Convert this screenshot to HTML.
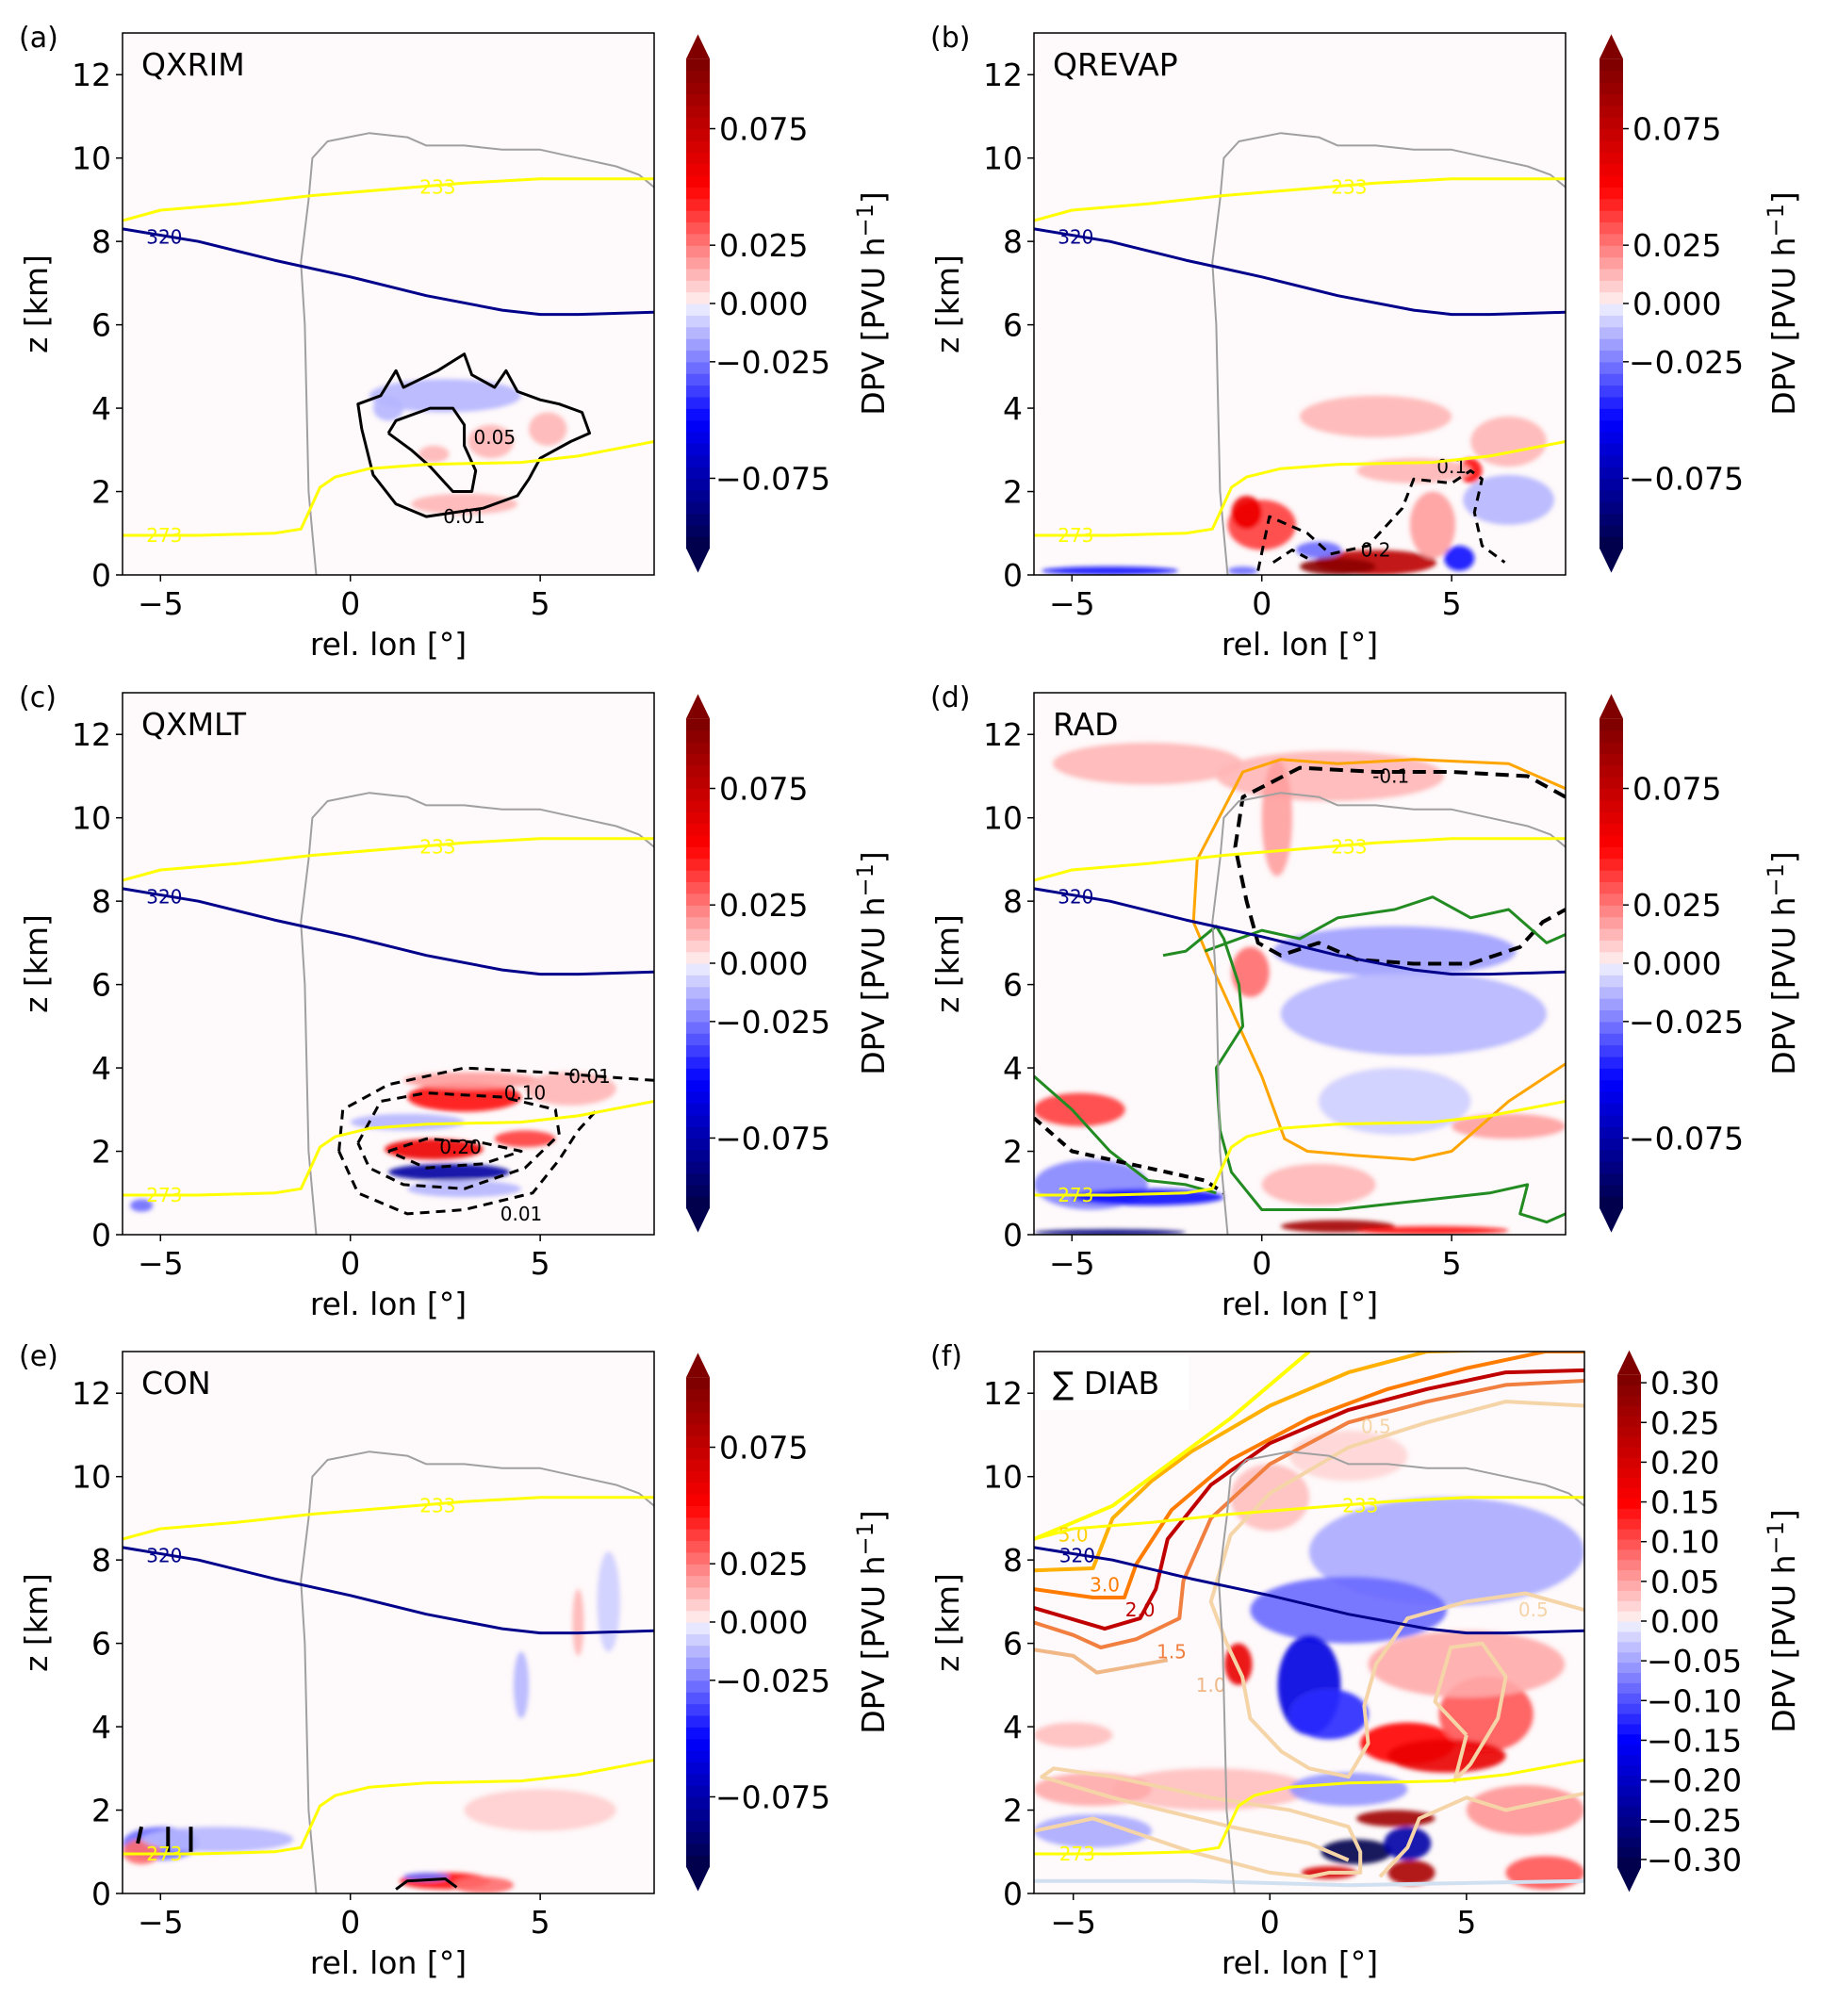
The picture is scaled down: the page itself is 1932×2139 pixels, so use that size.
<!DOCTYPE html>
<html><head><meta charset="utf-8">
<style>
html,body{margin:0;padding:0;background:#fff;}
svg{display:block;font-family:"DejaVu Sans","Liberation Sans",sans-serif;}
</style></head>
<body>
<svg id="fig" width="1932" height="2139" viewBox="0 0 1932 2139" xmlns="http://www.w3.org/2000/svg">
<defs id="defs"><filter id="soft" x="-20%" y="-20%" width="140%" height="140%"><feGaussianBlur stdDeviation="2.5"/></filter></defs>
</svg>
<script>
// ---------- data ----------
const xTickVals=[-5,0,5];
const xTickLabels=['\u22125','0','5'];
const yTickVals=[0,2,4,6,8,10,12];
const cbTicksSmall=[0.075,0.025,0,-0.025,-0.075];
const cbTickLabelsSmall=['0.075','0.025','0.000','\u22120.025','\u22120.075'];
const cbTicksF=[0.3,0.25,0.2,0.15,0.1,0.05,0,-0.05,-0.1,-0.15,-0.2,-0.25,-0.3];
const cbTickLabelsF=['0.30','0.25','0.20','0.15','0.10','0.05','0.00','\u22120.05','\u22120.10','\u22120.15','\u22120.20','\u22120.25','\u22120.30'];
const iso233=[[-6,8.5],[-5,8.75],[-3,8.9],[-1,9.1],[1,9.25],[3,9.4],[5,9.5],[8,9.5]];
const iso273=[[-6,0.95],[-4,0.95],[-2,1.0],[-1.3,1.1],[-1.1,1.5],[-0.8,2.1],[-0.4,2.35],[0.5,2.55],[2,2.65],[4.5,2.7],[6,2.85],[8,3.2]];
const theta320=[[-6,8.3],[-4,8.0],[-2,7.55],[0,7.15],[2,6.7],[4,6.35],[5,6.25],[6,6.25],[8,6.3]];
const cloudEdge=[[-0.9,0],[-1.0,1],[-1.1,2],[-1.15,4],[-1.2,6],[-1.3,7.5],[-1.1,9],[-1.0,10],[-0.6,10.4],[0.5,10.6],[1.5,10.5],[2,10.3],[3,10.3],[4,10.2],[5,10.2],[6,10.0],[7,9.8],[7.6,9.6],[8,9.3]];
const panelNames=['QXRIM','QREVAP','QXMLT','RAD','CON','\u2211 DIAB'];
const panelLetters=['(a)','(b)','(c)','(d)','(e)','(f)'];
// blobs: [lon, z, rx(deg), ry(km), value]
const blobsA=[[2.5,4.3,2.0,0.4,-0.012],[1.0,4.0,0.4,0.3,-0.012],[3.7,3.2,0.6,0.4,0.012],[5.2,3.5,0.5,0.4,0.012],[3.0,1.7,1.4,0.25,0.012],[2.2,2.9,0.4,0.2,0.012]];
const blobsB=[[0.0,1.2,0.9,0.6,0.04],[-0.4,1.5,0.4,0.4,0.06],[3.0,0.3,1.6,0.3,0.08],[2.0,0.2,1.0,0.2,0.1],[4.5,1.2,0.6,0.8,0.02],[5.2,0.4,0.4,0.3,-0.05],[5.5,2.5,0.3,0.3,0.05],[6.5,1.8,1.2,0.6,-0.012],[4,2.5,1.5,0.3,0.012],[1.5,0.6,0.6,0.2,-0.03],[-4,0.1,1.8,0.1,-0.05],[3,3.8,2,0.5,0.012],[6.5,3.2,1,0.6,0.012],[-0.5,0.1,0.4,0.1,-0.03]];
const blobsC=[[2.2,2.05,1.3,0.25,0.06],[4.6,2.3,0.8,0.2,0.04],[2.6,1.5,1.6,0.2,-0.08],[3,3.3,1.5,0.35,0.05],[3.2,3.7,1.8,0.2,0.02],[1.5,2.7,1.5,0.2,-0.015],[5.8,3.5,1.2,0.4,0.012],[3,1.1,1.5,0.2,-0.015],[-5.5,0.7,0.3,0.15,-0.03]];
const blobsD=[[-3,11.3,2.5,0.5,0.012],[1.8,11,3.0,0.6,0.012],[0.4,10,0.4,1.4,0.02],[-0.3,6.3,0.5,0.6,0.03],[3.5,6.8,3.2,0.6,-0.02],[4,5.3,3.5,1.0,-0.012],[-4.8,3.0,1.2,0.4,0.04],[-4.5,1.2,1.5,0.6,-0.025],[-3,0.9,2,0.2,-0.05],[2,0.2,1.5,0.15,0.09],[4.5,0.1,2,0.1,0.05],[1.5,1.2,1.5,0.5,0.012],[6.5,2.6,1.5,0.3,0.02],[-4,0.05,2,0.08,-0.09],[3.5,3.2,2,0.8,-0.008]];
const blobsE=[[-5,1.2,1.0,0.4,-0.03],[-5.5,1.0,0.5,0.3,0.03],[-3.5,1.3,2,0.3,-0.012],[2.5,0.3,1.2,0.2,0.05],[3.5,0.2,0.8,0.2,0.03],[2,0.4,0.6,0.1,-0.03],[4.5,5,0.2,0.8,-0.012],[6,6.5,0.15,0.8,0.012],[5,2,2,0.5,0.008],[6.8,7,0.3,1.2,-0.008]];
const blobsF=[[2,10.5,1.5,0.6,0.02],[0,9.5,1,0.8,0.03],[4.5,8.2,3.5,1.3,-0.04],[2,6.8,2.5,0.8,-0.08],[1.0,5.0,0.8,1.2,-0.18],[1.5,4.3,1,0.6,-0.12],[-0.8,5.5,0.35,0.5,0.18],[3.5,3.6,1.2,0.5,0.15],[5.5,4.3,1.2,0.9,0.1],[4.5,3.3,1.5,0.4,0.17],[3.2,1.8,1.0,0.2,0.27],[2.2,1.0,0.9,0.3,-0.3],[3.5,1.2,0.6,0.4,-0.22],[3.6,0.5,0.6,0.3,0.25],[1.5,0.5,0.7,0.15,0.2],[-1.5,2.5,2.5,0.5,0.03],[-4.5,2.5,1.5,0.4,0.04],[-4.5,1.5,1.5,0.4,-0.04],[2,2.5,1.5,0.4,-0.06],[6.5,2,1.5,0.6,0.06],[7,0.5,1,0.4,0.1],[-5,3.8,1,0.3,0.03],[5,5.5,2.5,0.8,0.04]];
const contF50=[[-6,8.5],[-5,8.9],[-4,9.3],[-3,10.0],[-2,10.7],[-1,11.4],[0,12.2],[1,13]];
const contF40=[[-6,7.75],[-4.5,7.8],[-4,9.0],[-3,9.9],[-2,10.6],[0,11.7],[2,12.5],[4,13],[8,13.1]];
const contF30=[[-6,7.3],[-4.5,7.1],[-3.7,7.1],[-3.4,7.9],[-2.5,9.2],[-1,10.4],[1,11.4],[3,12.1],[5,12.6],[7,13],[8,13]];
const contF20=[[-6,6.85],[-4.2,6.35],[-3.3,6.6],[-2.9,7.3],[-2.6,8.5],[-1.5,9.8],[0,10.8],[2,11.6],[4,12.1],[6,12.5],[8,12.55]];
const contF15=[[-6,6.5],[-5,6.2],[-4.3,5.9],[-3.4,6.1],[-2.3,6.6],[-2.2,7.5],[-1.5,9],[0,10.3],[2,11.3],[4,11.8],[6,12.2],[8,12.3]];
const contF10=[[-6,5.85],[-5,5.7],[-4.4,5.3],[-3.8,5.4],[-2.6,5.6]];
const contF05a=[[8,11.7],[6,11.8],[4,11.3],[2,10.7],[0,9.6],[-1,8.6],[-1.5,7.0],[-1.1,6.0],[-0.7,5.2],[-0.5,4.2],[0.3,3.4],[1.0,3.0],[2,2.8],[2.5,3.6],[2.4,4.5],[2.7,5.5],[3.5,6.6],[5,7.0],[6.5,7.2],[8,6.8]];
const contF05b=[[5.0,3.8],[4.2,4.6],[4.6,5.9],[5.4,6.0],[6.0,5.2],[5.8,4.2],[5.1,3.1],[4.7,2.7],[5.0,3.8]];
const contF05c=[[-6,1.5],[-4.5,1.8],[-2,1.0],[0,0.5],[1,0.4],[1.5,0.5],[2.3,0.5],[2.3,1.0],[2.0,1.6],[0.5,2.0],[-1.5,2.3],[-4,2.8],[-5.5,3.0],[-5.8,2.8],[-4,2.3],[-1,1.6],[1,1.2],[2,0.8]];
const contF05d=[[2.8,0.4],[3.5,1.1],[3.8,1.8],[5,2.3],[6,2.0],[8,2.4]];
const contAouter=[[0.3,3.5],[0.2,4.1],[0.8,4.3],[1.2,4.9],[1.4,4.5],[2.3,4.9],[3.0,5.3],[3.2,4.8],[3.8,4.5],[4.1,4.9],[4.4,4.4],[5.0,4.2],[5.5,4.1],[6.1,3.9],[6.3,3.4],[5.8,3.2],[5.0,2.8],[4.7,2.3],[4.4,1.9],[3.5,1.6],[2.0,1.4],[1.2,1.7],[0.6,2.4],[0.3,3.5]];
const contAinner=[[1.0,3.4],[1.2,3.7],[2.1,4.0],[2.7,4.0],[3.0,3.6],[3.0,3.1],[3.3,2.5],[3.2,2.0],[2.7,2.0],[2.1,2.6],[1.6,3.0],[1.0,3.4]];
const contBdash1=[[-0.1,0.1],[0.2,1.4],[1.2,1.0],[1.8,0.5],[2.8,0.7],[3.7,1.6],[4.0,2.3],[5.0,2.2],[5.5,2.5],[5.8,2.3],[5.6,1.5],[5.8,0.7],[6.4,0.3]];
const contBdash2=[[0.3,0.3],[0.8,0.6],[1.2,0.4]];
const contCdash1=[[-0.3,2.0],[-0.2,3.0],[1,3.6],[3,4.0],[5,3.9],[6.5,3.8],[8,3.7]];
const contCdash2=[[-0.3,2.0],[0.2,1.0],[1.5,0.5],[3,0.6],[4.8,1.0],[5.5,1.8],[6.0,2.5],[6.5,3.0]];
const contCdash3=[[0.2,2.2],[0.8,3.2],[2,3.4],[4,3.3],[5.4,3.0],[5.5,2.4],[4.6,1.6],[3,1.1],[1.4,1.2],[0.5,1.6],[0.2,2.2]];
const contCdash4=[[1.0,2.0],[2,2.3],[3.5,2.2],[4.5,2.0],[3.5,1.7],[2,1.6],[1.0,2.0]];
const contDorange1=[[8,10.7],[6.5,11.3],[4,11.4],[2,11.3],[0.5,11.4],[-0.5,11.1],[-1.7,9.0],[-1.8,7.5],[-1.2,6.2],[-0.6,5.0],[0.0,3.8],[0.6,2.3],[1.2,2.0],[2.5,1.9],[4,1.8],[5,2.0],[6.5,3.2],[8,4.1]];
const contDdash=[[8,10.5],[7,11.0],[5,11.1],[3,11.1],[1,11.2],[-0.5,10.5],[-0.7,9.3],[-0.4,8.0],[-0.1,7.0],[0.5,6.7],[1.5,7.0],[2.5,6.6],[4,6.5],[5.5,6.5],[6.8,6.9],[7.4,7.5],[8,7.8]];
const contDgreen=[[-2.6,6.7],[-2.0,6.8],[-1.2,7.4],[-1.0,7.1],[-0.6,6.0],[-0.5,5.0],[-1.2,4.0],[-1.1,2.5],[-0.8,1.5],[0,0.6],[2,0.6],[4,0.8],[6,1.0],[7,1.2],[6.8,0.5],[7.5,0.3],[8,0.5]];
const contDgreen2=[[-1.5,6.8],[0,7.3],[1,7.1],[2,7.6],[3.5,7.8],[4.5,8.1],[5.5,7.6],[6.5,7.8],[7.5,7.0],[8,7.2]];
const contDgreen3=[[-6,3.8],[-5,3.0],[-4,2.0],[-3,1.3],[-2,1.2],[-1.2,1.0]];
const contEsolid=[[1.2,0.1],[1.5,0.3],[2.5,0.35],[2.8,0.15]];

// ---------- helpers ----------
const NS='http://www.w3.org/2000/svg';
const svg=document.getElementById('fig');
const defs=document.getElementById('defs');
function mk(tag,attrs,parent){const e=document.createElementNS(NS,tag);for(const k in attrs)e.setAttribute(k,attrs[k]);(parent||svg).appendChild(e);return e;}
function lerp(a,b,t){return a+(b-a)*t;}
function seismic(t){
  const stops=[[0,[0,0,77]],[0.25,[0,0,255]],[0.5,[255,255,255]],[0.75,[255,0,0]],[1,[128,0,0]]];
  for(let i=0;i<stops.length-1;i++){const a=stops[i],b=stops[i+1];if(t<=b[0]){const u=(t-a[0])/(b[0]-a[0]);return 'rgb('+a[1].map((c,j)=>Math.round(lerp(c,b[1][j],u))).join(',')+')';}}
  return 'rgb(128,0,0)';
}
function valColor(v,vmax,nb){let t=v/vmax;t=Math.max(-1,Math.min(1,t));const q=Math.sign(t)*Math.ceil(Math.abs(t)*nb)/nb;return seismic((q+1)/2);}

const cols=[{L:130,R:694,cb:728,lab:926},{L:1097,R:1661,cb:1697,lab:1892}];
const rows=[35,735,1434];
const H=575;
const panelBlobs=[blobsA,blobsB,blobsC,blobsD,blobsE,blobsF];

for(let p=0;p<6;p++){
  const isF=(p===5);
  const c=cols[p%2],top=rows[Math.floor(p/2)];
  const L=c.L,R=isF?1681:c.R,W=R-L,B=top+H;
  const vmax=isF?0.31:0.105, nb=isF?24:21;
  const X=lon=>L+(lon+6)/14*W, Y=z=>B-z/13*H;
  const cp=mk('clipPath',{id:'clip'+p},defs);
  mk('rect',{x:L,y:top,width:W,height:H},cp);
  const g=mk('g',{});
  
  
  const bg=mk('rect',{x:L,y:top,width:W,height:H,fill:'#fef9fa'},g);
  
  
  const clip=mk('g',{'clip-path':'url(#clip'+p+')'},g);
  const fieldG=mk('g',{filter:'url(#soft)'},clip);
  
  
  for(const b of panelBlobs[p]){
    const e=mk('ellipse',{cx:X(b[0]),cy:Y(b[1]),rx:b[2]/14*W,ry:b[3]/13*H,fill:valColor(b[4],vmax,nb),opacity:0.9},fieldG);
    
    
  }
  function line(pts,stroke,w,dash,name,closed){
    const d=pts.map((q,i)=>(i?'L':'M')+X(q[0]).toFixed(1)+','+Y(q[1]).toFixed(1)).join(' ')+(closed?'Z':'');
    const e=mk('path',{d:d,fill:'none',stroke:stroke,'stroke-width':w,'stroke-dasharray':dash||'none','stroke-linejoin':'round'},clip);
    
    
    return e;
  }
  function lbl(lon,z,t,col,name){
    const e=mk('text',{x:X(lon),y:Y(z)+7,'font-size':20,fill:col,'text-anchor':'middle'},clip);
    e.textContent=t;
    
    
  }
  if(p===0){line(contAouter,'#000',3,null,'dpv-contour-0.01');line(contAinner,'#000',3,null,'dpv-contour-0.05');lbl(3.0,1.4,'0.01','#000','contour-label');lbl(3.8,3.3,'0.05','#000','contour-label');}
  if(p===1){line(contBdash1,'#000',3,'10,7','dpv-contour-dashed');line(contBdash2,'#000',3,'10,7','dpv-contour-dashed');lbl(5,2.6,'0.1','#000','contour-label');lbl(3,0.6,'0.2','#000','contour-label');}
  if(p===2){line(contCdash1,'#000',3,'10,7','dpv-contour-dashed');line(contCdash2,'#000',3,'10,7','dpv-contour-dashed');line(contCdash3,'#000',3,'10,7','dpv-contour-dashed');line(contCdash4,'#000',3,'10,7','dpv-contour-dashed');lbl(6.3,3.8,'0.01','#000','contour-label');lbl(4.5,0.5,'0.01','#000','contour-label');lbl(2.9,2.1,'0.20','#000','contour-label');lbl(4.6,3.4,'0.10','#000','contour-label');}
  if(p===3){line(contDorange1,'#ffa500',3,null,'orange-contour');line(contDdash,'#000',4,'14,8','dpv-contour-dashed');line(contDgreen,'#228b22',3,null,'green-contour');line(contDgreen2,'#228b22',3,null,'green-contour');line(contDgreen3,'#228b22',3,null,'green-contour');line([[-6,2.8],[-5,2.0],[-3,1.6],[-1.5,1.3],[-1,1.0]],'#000',4,'10,7','dpv-contour-dashed');lbl(3.4,11,'-0.1','#000','contour-label');}
  if(p===4){line(contEsolid,'#000',3,null,'dpv-contour');line([[-5.6,1.2],[-5.5,1.6]],'#000',4,null,'dpv-contour');line([[-4.8,1.0],[-4.8,1.6]],'#000',4,null,'dpv-contour');line([[-4.2,1.0],[-4.2,1.6]],'#000',4,null,'dpv-contour');}
  if(p===5){
    line(contF05a,'#f5d5a8',4,null,'heating-contour-0.5');line(contF05b,'#f5d5a8',4,null,'heating-contour-0.5');line(contF05c,'#f5d5a8',4,null,'heating-contour-0.5');line(contF05d,'#f5d5a8',4,null,'heating-contour-0.5');
    line(contF10,'#f0b787',4,null,'heating-contour-1.0');
    line(contF15,'#f07f40',4,null,'heating-contour-1.5');
    line(contF20,'#c00000',4,null,'heating-contour-2.0');
    line(contF30,'#ff7c00',4,null,'heating-contour-3.0');
    line(contF40,'#ffb000',4,null,'heating-contour-4.0');
    line(contF50,'#ffff00',4,null,'heating-contour-5.0');
    line([[-6,0.3],[-2,0.3],[2,0.2],[8,0.3]],'#d0e0f0',4,null,'heating-contour-low');
    lbl(-1.5,5.0,'1.0','#f0b787','contour-label');lbl(-2.5,5.8,'1.5','#f07f40','contour-label');lbl(-3.3,6.8,'2.0','#c00000','contour-label');lbl(-4.2,7.4,'3.0','#ff7c00','contour-label');lbl(-5,8.6,'5.0','#ffd000','contour-label');lbl(2.7,11.2,'0.5','#f5d5a8','contour-label');lbl(6.7,6.8,'0.5','#f5d5a8','contour-label');
  }
  line(cloudEdge,'#a0a0a0',2,null,'cloud-outline');
  line(iso233,'#ffff00',3,null,'isotherm-233');
  line(iso273,'#ffff00',3,null,'isotherm-273');
  line(theta320,'#00008b',3,null,'isentrope-320');
  lbl(2.3,9.3,'233','#ffff00','isotherm-label');
  lbl(-4.9,0.95,'273','#ffff00','isotherm-label');
  lbl(-4.9,8.1,'320','#00008b','isentrope-label');
  if(isF){const tb=mk('rect',{x:L+4,y:top+4,width:160,height:58,fill:'#fff'},g);}
  const tt=mk('text',{x:L+20,y:top+45,'font-size':33,fill:'#000'},g);
  tt.textContent=panelNames[p];
  
  
  const fr=mk('rect',{x:L,y:top,width:W,height:H,fill:'none',stroke:'#000','stroke-width':1.5},g);
  
  
  const pl=mk('text',{x:L-110,y:top+15,'font-size':30,fill:'#000'},g);
  pl.textContent=panelLetters[p];
  
  
  xTickVals.forEach((v,i)=>{
    const tk=mk('line',{x1:X(v),x2:X(v),y1:B,y2:B+7,stroke:'#000','stroke-width':1.5},g);
    
    
    const t=mk('text',{x:X(v),y:B+42,'font-size':33,'text-anchor':'middle',fill:'#000'},g);
    t.textContent=xTickLabels[i];
    
    
  });
  yTickVals.forEach(v=>{
    const tk=mk('line',{x1:L-7,x2:L,y1:Y(v),y2:Y(v),stroke:'#000','stroke-width':1.5},g);
    
    
    const t=mk('text',{x:L-12,y:Y(v)+12,'font-size':33,'text-anchor':'end',fill:'#000'},g);
    t.textContent=String(v);
    
    
  });
  const xl=mk('text',{x:(L+c.R)/2,y:B+85,'font-size':33,'text-anchor':'middle',fill:'#000'},g);
  xl.textContent='rel. lon [\u00b0]';
  
  
  const yl=mk('text',{x:0,y:0,'font-size':33,'text-anchor':'middle',fill:'#000',transform:'translate('+(L-80)+','+(top+H/2)+') rotate(-90)'},g);
  yl.textContent='z [km]';
  
  
  const cbx=isF?1716:c.cb, cbw=25;
  const zeroY=isF?(1720-1434+top):(322-35+top);
  const k=isF?843:2473;
  const cbg=mk('g',{},g);
  
  
  for(let i=-nb;i<nb;i++){
    const v0=i*vmax/nb,v1=(i+1)*vmax/nb;
    const r=mk('rect',{x:cbx,y:zeroY-v1*k,width:cbw,height:(v1-v0)*k+0.6,fill:valColor((v0+v1)/2,vmax,nb)},cbg);
    
    
  }
  const yt=zeroY-vmax*k, yb=zeroY+vmax*k;
  const tri1=mk('path',{d:`M${cbx},${yt} L${cbx+cbw/2},${yt-26} L${cbx+cbw},${yt}Z`,fill:'rgb(128,0,0)'},cbg);
  
  
  const tri2=mk('path',{d:`M${cbx},${yb} L${cbx+cbw/2},${yb+26} L${cbx+cbw},${yb}Z`,fill:'rgb(0,0,77)'},cbg);
  
  
  const tv=isF?cbTicksF:cbTicksSmall, tl=isF?cbTickLabelsF:cbTickLabelsSmall;
  tv.forEach((v,i)=>{
    const ty=zeroY-v*k;
    const tk=mk('line',{x1:cbx+cbw,x2:cbx+cbw+6,y1:ty,y2:ty,stroke:'#000','stroke-width':1.5},cbg);
    
    
    const t=mk('text',{x:cbx+cbw+(v<0?6:10),y:ty+12,'font-size':33,fill:'#000'},cbg);
    t.textContent=tl[i];
    
    
  });
  const cl=mk('text',{x:0,y:0,'font-size':33,'text-anchor':'middle',fill:'#000',transform:'translate('+(c.lab+12)+','+zeroY+') rotate(-90)'},cbg);
  cl.innerHTML='DPV [PVU h<tspan dy="-12" font-size="24">\u22121</tspan><tspan dy="12">]</tspan>';
  
  
}
</script>
</body></html>
